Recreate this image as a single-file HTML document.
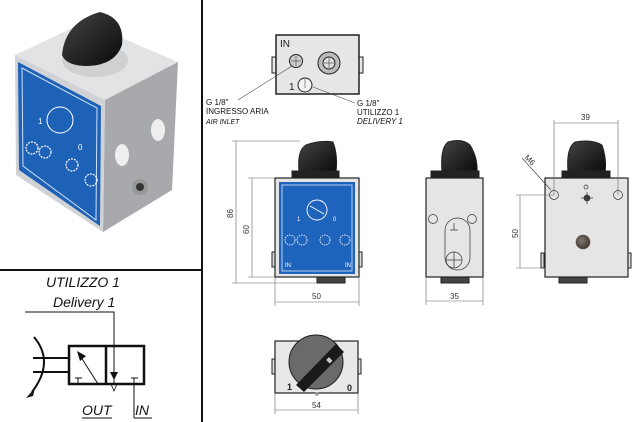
<!DOCTYPE html>
<html><head><meta charset="utf-8"><style>
html,body{margin:0;padding:0;background:#fff;}
svg{display:block;font-family:"Liberation Sans",sans-serif;}
</style></head><body>
<svg width="640" height="422" viewBox="0 0 640 422" xmlns="http://www.w3.org/2000/svg">
<defs>
<linearGradient id="knob" x1="0" y1="0" x2="1" y2="1"><stop offset="0" stop-color="#444"/><stop offset="1" stop-color="#0a0a0a"/></linearGradient>
<radialGradient id="port" cx="0.4" cy="0.4" r="0.6"><stop offset="0" stop-color="#777"/><stop offset="1" stop-color="#4a3a2a"/></radialGradient>
</defs>
<rect width="640" height="422" fill="#fff"/>
<!-- dividers -->
<line x1="202" y1="0" x2="202" y2="422" stroke="#111" stroke-width="2"/>
<line x1="0" y1="270" x2="202" y2="270" stroke="#111" stroke-width="2"/>

<!-- Photo -->
<polygon points="15,55 85,22 178,62 105,100" fill="#e2e3e5"/>
<polygon points="105,100 178,62 172,190 103,232" fill="#a7a9ad"/>
<polygon points="15,55 105,100 103,232 16,175" fill="#d0d2d5"/>
<polygon points="18,62 101,106 100,226 19,170" fill="#1e62b8"/>
<polygon points="22,68 97,108 96,220 23,166" fill="none" stroke="#cfe0f5" stroke-width="1"/>
<ellipse cx="158" cy="130" rx="7" ry="11" fill="#eee"/>
<ellipse cx="122" cy="155" rx="7" ry="11" fill="#eee"/>
<ellipse cx="140" cy="187" rx="8" ry="8" fill="#999"/>
<circle cx="140" cy="187" r="4" fill="#333"/>
<ellipse cx="95" cy="60" rx="33" ry="17" fill="#cfd0d2"/>
<path d="M62,55 Q65,22 100,12 Q125,18 122,45 Q115,65 88,66 Q66,66 62,55Z" fill="url(#knob)"/>
<circle cx="60" cy="120" r="13" fill="none" stroke="#fff" stroke-width="1"/>
<text x="38" y="124" font-size="8" fill="#fff">1</text>
<text x="78" y="150" font-size="8" fill="#fff">0</text>
<g fill="none" stroke="#fff" stroke-width="1.2">
<circle cx="32" cy="148" r="6" stroke-dasharray="2 1"/><circle cx="45" cy="152" r="6" stroke-dasharray="2 1"/>
<circle cx="72" cy="165" r="6" stroke-dasharray="2 1"/><circle cx="91" cy="180" r="6" stroke-dasharray="2 1"/>
</g>

<!-- Schematic -->
<g font-style="italic" font-size="14" fill="#111">
<text x="46" y="287">UTILIZZO 1</text>
<text x="53" y="307">Delivery 1</text>
<text x="82" y="415">OUT</text>
<text x="135" y="415">IN</text>
</g>
<g stroke="#111" fill="none">
<polyline points="25,312 114,312 114,385" stroke-width="1"/>
<rect x="69" y="346" width="75" height="38" stroke-width="2.5"/>
<line x1="106" y1="346" x2="106" y2="384" stroke-width="2.5"/>
<line x1="33" y1="358" x2="69" y2="358" stroke-width="2"/>
<line x1="33" y1="372" x2="69" y2="372" stroke-width="2"/>
<path d="M34,337 Q55,362 32,392" stroke-width="2"/>
<line x1="79" y1="354" x2="98" y2="384" stroke-width="1"/>
<line x1="75" y1="378" x2="82" y2="378"/><line x1="78" y1="378" x2="78" y2="383"/>
<line x1="131" y1="378" x2="138" y2="378"/><line x1="134" y1="378" x2="134" y2="418"/>
<line x1="82" y1="418" x2="112" y2="418"/><line x1="134" y1="418" x2="152" y2="418"/>
<polygon points="111,384 117,384 114,391" stroke-width="0.8"/>
</g>
<polygon points="77,351 86,356 80,361" fill="#111"/>
<polygon points="110,372 118,372 114,380" fill="#111"/>
<polygon points="26,398 35,388 33,396" fill="#111"/>

<!-- Top view -->
<g stroke="#222" fill="#e6e6e6">
<rect x="272" y="57" width="4" height="16"/><rect x="359" y="57" width="4" height="16"/>
<rect x="276" y="35" width="83" height="59" stroke-width="1.5"/>
<circle cx="296" cy="61" r="6.5" fill="#ccc"/>
<circle cx="329" cy="63" r="11" fill="#bbb"/><circle cx="329" cy="63" r="6" fill="#ddd"/>
<circle cx="305" cy="85" r="7" fill="#f4f4f4"/>
</g>
<g stroke="#444" stroke-width="0.6"><line x1="296" y1="56" x2="296" y2="66"/><line x1="291" y1="61" x2="301" y2="61"/><line x1="329" y1="58" x2="329" y2="68"/><line x1="324" y1="63" x2="334" y2="63"/><line x1="305" y1="79" x2="305" y2="88"/>
<line x1="292" y1="66" x2="238" y2="100"/><line x1="313" y1="87" x2="355" y2="103"/></g>
<text x="280" y="47" font-size="10" fill="#222">IN</text>
<text x="289" y="90" font-size="10" fill="#222">1</text>
<g font-size="8" fill="#111">
<text x="206" y="105">G 1/8"</text><text x="206" y="114">INGRESSO ARIA</text><text x="206" y="124" font-size="7" font-style="italic">AIR INLET</text>
<text x="357" y="106">G 1/8"</text><text x="357" y="115">UTILIZZO 1</text><text x="357" y="124" font-style="italic">DELIVERY 1</text>
</g>

<!-- Front view -->
<g stroke="#222">
<rect x="272" y="252" width="3" height="15" fill="#ddd"/><rect x="359" y="252" width="3" height="15" fill="#ddd"/>
<rect x="317" y="277" width="28" height="6" fill="#444"/>
<path d="M299,172 Q297,150 306,145 Q320,140 333,142 Q338,155 336,172Z" fill="url(#knob)"/>
<rect x="292" y="171" width="47" height="7" fill="#222"/>
<rect x="275" y="178" width="84" height="99" fill="#e5e5e5" stroke-width="1.2"/>
<rect x="279" y="182" width="76" height="92" fill="#1e64bd" stroke="none"/>
</g>
<rect x="282" y="185" width="70" height="86" fill="none" stroke="#dfe9f6" stroke-width="0.8"/>
<g fill="none" stroke="#fff" stroke-width="0.9">
<circle cx="317" cy="210" r="10"/><line x1="310" y1="206" x2="324" y2="214"/>
<circle cx="290" cy="240" r="5" stroke-dasharray="1.5 1"/><circle cx="302" cy="240" r="5" stroke-dasharray="1.5 1"/>
<circle cx="325" cy="240" r="5" stroke-dasharray="1.5 1"/><circle cx="345" cy="240" r="5" stroke-dasharray="1.5 1"/>
</g>
<g font-size="6" fill="#fff"><text x="297" y="221">1</text><text x="333" y="221">0</text><text x="285" y="267">IN</text><text x="345" y="267">IN</text></g>
<g stroke="#666" stroke-width="0.6" fill="none">
<line x1="236" y1="141" x2="236" y2="283"/><line x1="232" y1="141" x2="300" y2="141"/><line x1="232" y1="283" x2="317" y2="283"/>
<line x1="252" y1="178" x2="252" y2="277"/><line x1="248" y1="178" x2="275" y2="178"/><line x1="248" y1="277" x2="275" y2="277"/>
<line x1="275" y1="277" x2="275" y2="306"/><line x1="359" y1="277" x2="359" y2="306"/><line x1="275" y1="302" x2="359" y2="302"/>
</g>
<g font-size="8" fill="#333">
<text transform="translate(233,218) rotate(-90)">86</text>
<text transform="translate(249,234) rotate(-90)">60</text>
<text x="312" y="299">50</text>
</g>

<!-- Side view -->
<g stroke="#222">
<rect x="441" y="277" width="28" height="6" fill="#444"/>
<path d="M442,172 Q440,148 448,142 Q462,138 470,145 Q478,158 477,172Z" fill="url(#knob)"/>
<rect x="431" y="171" width="48" height="7" fill="#222"/>
<rect x="426" y="178" width="57" height="99" fill="#e5e5e5" stroke-width="1.2"/>
</g>
<g stroke="#333" fill="none" stroke-width="0.7">
<rect x="445" y="218" width="25" height="52" rx="12.5"/>
<circle cx="433" cy="219" r="4.5"/><circle cx="472" cy="219" r="4.5"/>
<circle cx="454" cy="260" r="8"/>
<line x1="454" y1="223" x2="454" y2="230" /><line x1="450" y1="230" x2="458" y2="230"/>
<line x1="454" y1="252" x2="454" y2="268"/><line x1="446" y1="260" x2="462" y2="260"/>
</g>
<g stroke="#666" stroke-width="0.6"><line x1="426" y1="277" x2="426" y2="305"/><line x1="483" y1="277" x2="483" y2="305"/><line x1="426" y1="301" x2="483" y2="301"/></g>
<text x="450" y="299" font-size="8" fill="#333">35</text>

<!-- Right view -->
<g stroke="#222">
<rect x="541" y="253" width="3" height="15" fill="#ddd"/><rect x="628" y="253" width="3" height="15" fill="#ddd"/>
<rect x="559" y="277" width="28" height="6" fill="#444"/>
<path d="M568,172 Q566,148 575,142 Q592,139 602,145 Q607,160 605,172Z" fill="url(#knob)"/>
<rect x="562" y="171" width="48" height="7" fill="#222"/>
<rect x="545" y="178" width="83" height="99" fill="#e5e5e5" stroke-width="1.2"/>
</g>
<g stroke="#333" fill="none" stroke-width="0.7">
<circle cx="554" cy="195" r="4.5"/><circle cx="618" cy="195" r="4.5"/>
<circle cx="586" cy="187" r="2"/><circle cx="587" cy="198" r="3" fill="#444"/>
<line x1="581" y1="198" x2="593" y2="198"/><line x1="587" y1="192" x2="587" y2="204"/>
</g>
<circle cx="583" cy="242" r="7" fill="url(#port)" stroke="#555" stroke-width="0.6"/>
<g stroke="#666" stroke-width="0.6">
<line x1="554" y1="120" x2="554" y2="195"/><line x1="618" y1="120" x2="618" y2="195"/><line x1="554" y1="123" x2="618" y2="123"/>
<line x1="520" y1="195" x2="520" y2="268"/><line x1="516" y1="195" x2="554" y2="195"/><line x1="516" y1="268" x2="545" y2="268"/>
<line x1="522" y1="158" x2="551" y2="190" stroke="#333"/>
</g>
<g font-size="8" fill="#333">
<text x="581" y="120">39</text>
<text transform="translate(518,238) rotate(-90)">50</text>
<text transform="translate(524,158) rotate(45)">M6</text>
</g>

<!-- Bottom view -->
<g stroke="#222">
<rect x="272" y="359" width="3" height="15" fill="#ddd"/><rect x="358" y="359" width="3" height="15" fill="#ddd"/>
<rect x="275" y="341" width="83" height="52" fill="#e8e8e8" stroke-width="1.2"/>
<circle cx="316" cy="362" r="27" fill="#6a6a6a"/>
</g>
<polygon points="296,385 336,344 344,352 304,392" fill="#1a1a1a"/>
<rect x="327" y="358" width="4" height="5" fill="#ccc" transform="rotate(-45 329 360)"/>
<text x="287" y="390" font-size="9" font-weight="bold" fill="#222">1</text>
<text x="347" y="391" font-size="9" font-weight="bold" fill="#222">0</text>
<circle cx="317" cy="394" r="1.8" fill="#999"/>
<g stroke="#666" stroke-width="0.6"><line x1="275" y1="393" x2="275" y2="414"/><line x1="358" y1="393" x2="358" y2="414"/><line x1="275" y1="410" x2="358" y2="410"/></g>
<text x="312" y="408" font-size="8" fill="#333">54</text>
</svg>
</body></html>
